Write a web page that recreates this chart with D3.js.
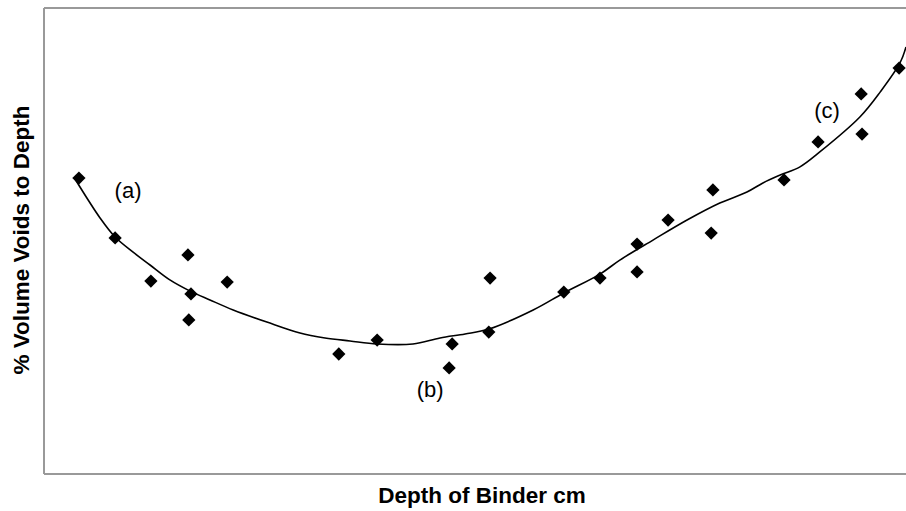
<!DOCTYPE html>
<html>
<head>
<meta charset="utf-8">
<script src="https://cdn.jsdelivr.net/npm/d3@7"></script>
<style>
  html, body { margin: 0; padding: 0; background: #fff; }
  svg { display: block; }
  text { font-family: Arial, "Liberation Sans", sans-serif; }
</style>
</head>
<body>
<svg id="chart" width="906" height="511"></svg>
<script>
// Measured data (depth of binder in cm, % volume voids) — no tick labels in the original
const depthPoints = [0.81, 1.65, 2.48, 3.34, 3.41, 3.36, 4.25, 6.84, 7.73, 9.47, 9.40, 10.35, 10.32,
  12.06, 12.90, 13.76, 13.76, 14.48, 15.52, 15.48, 17.17, 17.96, 18.96, 18.98, 19.84];
const voidPoints = [12.70, 10.13, 8.28, 9.40, 7.73, 6.61, 8.24, 5.15, 5.75, 5.58, 4.55, 8.41, 6.09,
  7.81, 8.41, 9.87, 8.67, 10.90, 12.19, 10.34, 12.62, 14.25, 16.31, 14.59, 17.42];

// Fitted trend curve
const curveDepth = [0.72, 1.30, 1.65, 2.06, 2.46, 2.92, 3.39, 3.85, 4.39, 5.17, 5.94, 6.52, 7.10, 7.73,
  8.56, 9.19, 9.77, 10.32, 11.35, 12.06, 12.90, 13.36, 14.13, 14.92, 15.68, 16.31, 16.68, 17.08, 17.54,
  18.00, 18.93, 19.40, 19.86, 20.00];
const curveVoids = [12.66, 10.99, 10.17, 9.53, 8.97, 8.33, 7.85, 7.47, 7.04, 6.52, 6.05, 5.84, 5.71, 5.58,
  5.58, 5.84, 6.01, 6.22, 7.04, 7.77, 8.58, 9.18, 10.04, 10.90, 11.63, 12.10, 12.49, 12.83, 13.18,
  13.82, 15.32, 16.39, 17.64, 18.33];

// Annotations
const noteLabels = ["(a)", "(b)", "(c)"];
const noteDepth = [1.95, 8.96, 18.17];
const noteVoids = [11.85, 3.30, 15.28];

const xTitle = "Depth of Binder cm";
const yTitle = "% Volume Voids to Depth";

const svg = d3.select("#chart");
const margin = { left: 44, top: 8, right: 0, bottom: 37 };
const W = 906, H = 511;

const x = d3.scaleLinear().domain([0, 20]).range([margin.left, W - margin.right]);
const y = d3.scaleLinear().domain([0, 20]).range([H - margin.bottom, margin.top]);

// Frame (left, top, bottom)
const frame = svg.append("g");
frame.append("line").attr("x1", x(0)).attr("x2", x(0)).attr("y1", y(20)).attr("y2", y(0))
  .attr("stroke", "#999").attr("stroke-width", 2);
frame.append("line").attr("x1", x(0)).attr("x2", x(20)).attr("y1", y(20)).attr("y2", y(20))
  .attr("stroke", "#999").attr("stroke-width", 2);
frame.append("line").attr("x1", x(0)).attr("x2", x(20)).attr("y1", y(0)).attr("y2", y(0))
  .attr("stroke", "#999").attr("stroke-width", 2);

// Trend curve
const curveData = curveDepth.map((d, i) => [d, curveVoids[i]]);
svg.append("path")
  .datum(curveData)
  .attr("fill", "none")
  .attr("stroke", "#000")
  .attr("stroke-width", 1.6)
  .attr("d", d3.line().x(d => x(d[0])).y(d => y(d[1])).curve(d3.curveCatmullRom.alpha(0.5)));

// Points (diamonds)
const pts = depthPoints.map((d, i) => [d, voidPoints[i]]);
const sym = d3.symbol().type(d3.symbolSquare).size(88);
svg.append("g").selectAll("path").data(pts).join("path")
  .attr("d", sym)
  .attr("transform", d => `translate(${x(d[0])},${y(d[1])}) rotate(45)`)
  .attr("fill", "#000");

// Annotations
svg.append("g").selectAll("text").data(noteLabels).join("text")
  .attr("x", (d, i) => x(noteDepth[i]))
  .attr("y", (d, i) => y(noteVoids[i]))
  .attr("text-anchor", "middle")
  .attr("font-size", 22)
  .attr("fill", "#000")
  .text(d => d);

// Axis titles
svg.append("text")
  .attr("x", 482).attr("y", 503)
  .attr("text-anchor", "middle")
  .attr("font-size", 22.5).attr("font-weight", "bold")
  .text(xTitle);

svg.append("text")
  .attr("transform", "translate(29,240) rotate(-90)")
  .attr("text-anchor", "middle")
  .attr("font-size", 22.5).attr("font-weight", "bold")
  .text(yTitle);
</script>
</body>
</html>
